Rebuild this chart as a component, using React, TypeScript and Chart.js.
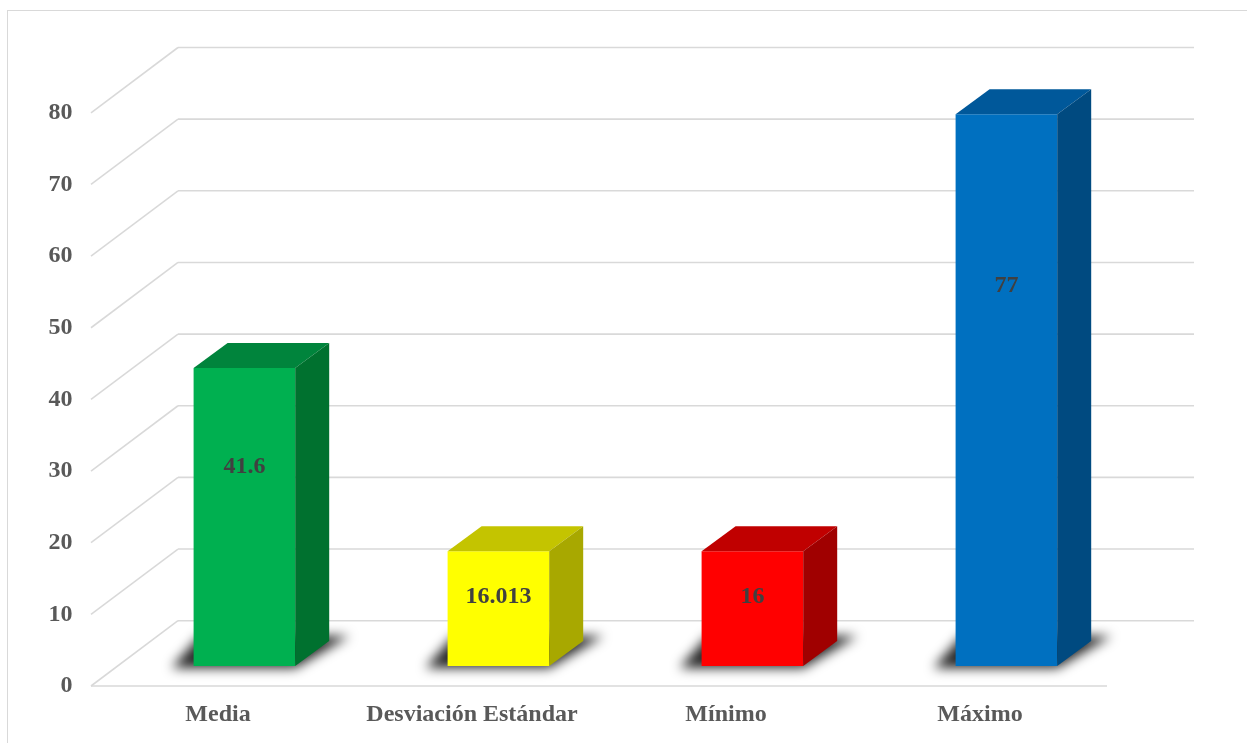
import React, { useEffect, useRef } from "react";
import { Chart, registerables } from "chart.js";

Chart.register(...registerables);

const categories = ["Media", "Desviación Estándar", "Mínimo", "Máximo"];
const values = [41.6, 16.013, 16, 77];
const yTicks = [0, 10, 20, 30, 40, 50, 60, 70, 80];
const frontColors = ["#00B050", "#FFFF00", "#FF0000", "#0070C0"];
const topColors = ["#00843C", "#C4C400", "#C00000", "#00589A"];
const sideColors = ["#00712F", "#A8A800", "#A00000", "#004A80"];

const FONT = "'Times New Roman', 'Liberation Serif', serif";
const GRID = "#D9D9D9";
// 3D projection offsets relative to the bar plane
const BACK_X = 60.6;
const BACK_Y = -45.3;
const FRONT_X = -26.4;
const FRONT_Y = 20;
const DEPTH_X = 34;
const DEPTH_Y = -25;

const threeD = {
  id: "threeD",
  beforeDraw(chart: any) {
    const ctx = chart.ctx;
    ctx.save();
    ctx.strokeStyle = GRID;
    ctx.lineWidth = 1;
    ctx.strokeRect(7.5, 10.5, 1400, 900);
    ctx.restore();
  },
  beforeDatasetsDraw(chart: any) {
    const ctx = chart.ctx;
    const { left, right } = chart.chartArea;
    const ys = chart.scales.y;
    ctx.save();
    ctx.strokeStyle = GRID;
    ctx.lineWidth = 1.6;
    yTicks.forEach((v) => {
      const yb = ys.getPixelForValue(v);
      ctx.beginPath();
      ctx.moveTo(left + BACK_X, yb + BACK_Y);
      ctx.lineTo(right + BACK_X, yb + BACK_Y);
      ctx.stroke();
      ctx.beginPath();
      ctx.moveTo(left + FRONT_X, yb + FRONT_Y);
      ctx.lineTo(left + BACK_X, yb + BACK_Y);
      ctx.stroke();
    });
    const y0 = ys.getPixelForValue(0);
    ctx.beginPath();
    ctx.moveTo(left + FRONT_X, y0 + FRONT_Y);
    ctx.lineTo(right + FRONT_X, y0 + FRONT_Y);
    ctx.stroke();

    // soft floor shadows
    const meta = chart.getDatasetMeta(0);
    meta.data.forEach((bar: any) => {
      const p = bar.getProps(["x", "y", "base", "width"], true);
      const xL = p.x - p.width / 2;
      const xR = p.x + p.width / 2;
      const b = p.base;
      ctx.save();
      ctx.filter = "blur(6px)";
      ctx.fillStyle = "rgba(0,0,0,0.85)";
      ctx.beginPath();
      ctx.moveTo(xL - 22, b + 2);
      ctx.lineTo(xR, b + 2);
      ctx.lineTo(xR + DEPTH_X + 20, b - 30);
      ctx.lineTo(xL + 6, b - 30);
      ctx.closePath();
      ctx.fill();
      ctx.restore();
    });
    ctx.restore();
  },
  afterDatasetsDraw(chart: any) {
    const ctx = chart.ctx;
    const meta = chart.getDatasetMeta(0);
    ctx.save();
    meta.data.forEach((bar: any, i: number) => {
      const p = bar.getProps(["x", "y", "base", "width"], true);
      const xL = p.x - p.width / 2;
      const xR = p.x + p.width / 2;
      const t = p.y;
      const b = p.base;
      // top face
      ctx.fillStyle = topColors[i];
      ctx.beginPath();
      ctx.moveTo(xL, t);
      ctx.lineTo(xL + DEPTH_X, t + DEPTH_Y);
      ctx.lineTo(xR + DEPTH_X, t + DEPTH_Y);
      ctx.lineTo(xR, t);
      ctx.closePath();
      ctx.fill();
      // side face
      ctx.fillStyle = sideColors[i];
      ctx.beginPath();
      ctx.moveTo(xR, t);
      ctx.lineTo(xR + DEPTH_X, t + DEPTH_Y);
      ctx.lineTo(xR + DEPTH_X, b + DEPTH_Y);
      ctx.lineTo(xR, b);
      ctx.closePath();
      ctx.fill();
      // data label
      const h = b - t;
      const ly = b - (0.71 * h - 12);
      ctx.fillStyle = "#404040";
      ctx.font = `bold 24px ${FONT}`;
      ctx.textAlign = "center";
      ctx.textBaseline = "middle";
      ctx.fillText(String(values[i]), p.x, ly);
    });
    ctx.restore();
  },
};

export default function App() {
  const ref = useRef<HTMLCanvasElement | null>(null);
  useEffect(() => {
    if (!ref.current) return;
    const chart = new Chart(ref.current, {
      type: "bar",
      data: {
        labels: categories,
        datasets: [
          {
            data: values,
            backgroundColor: frontColors,
            borderWidth: 0,
            barPercentage: 0.4,
            categoryPercentage: 1,
          },
        ],
      },
      options: {
        responsive: false,
        animation: false,
        layout: { padding: { top: 92.8, right: 113.6, bottom: 0, left: 0 } },
        plugins: { legend: { display: false }, tooltip: { enabled: false } },
        scales: {
          x: {
            grid: { display: false, drawTicks: false, tickLength: 0 },
            border: { display: false },
            ticks: {
              color: "#595959",
              font: { family: FONT, size: 24, weight: "bold" },
              padding: 34,
              labelOffset: FRONT_X,
              maxRotation: 0,
              autoSkip: false,
            },
            afterFit: (s: any) => {
              s.height = 77;
            },
          },
          y: {
            min: 0,
            max: 80,
            grid: { display: false, drawTicks: false, tickLength: 0 },
            border: { display: false },
            afterBuildTicks: (s: any) => {
              s.ticks = yTicks.map((v) => ({ value: v }));
            },
            ticks: {
              color: "#595959",
              font: { family: FONT, size: 24, weight: "bold" },
              padding: 45,
              labelOffset: FRONT_Y,
            },
            afterFit: (s: any) => {
              s.width = 117.4;
            },
          },
        },
      },
      plugins: [threeD],
    });
    return () => chart.destroy();
  }, []);
  return (
    <div style={{ position: "absolute", left: 0, top: 0, width: 1247, height: 743, background: "#fff" }}>
      <canvas ref={ref} width={1247} height={743} />
    </div>
  );
}
